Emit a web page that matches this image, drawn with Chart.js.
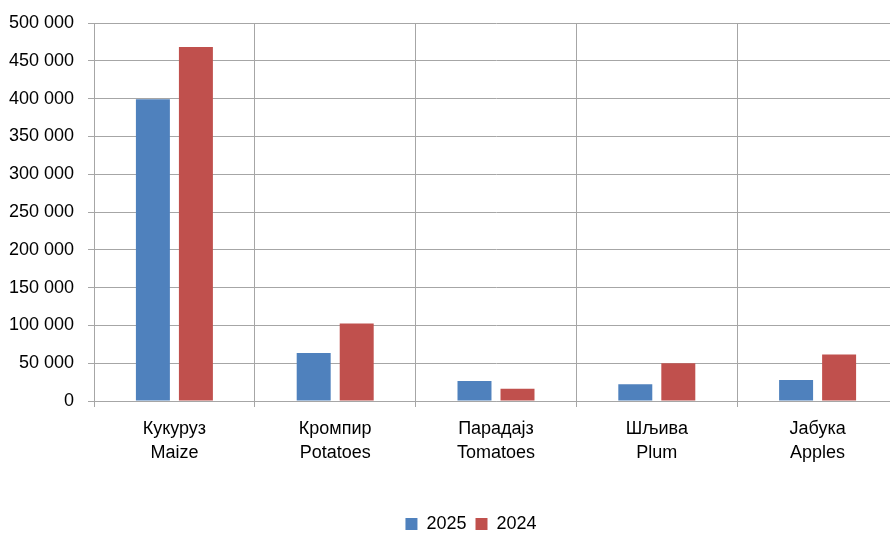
<!DOCTYPE html>
<html>
<head>
<meta charset="utf-8">
<script src="https://cdn.jsdelivr.net/npm/chart.js@4.4.1/dist/chart.umd.min.js"></script>
<style>
  html, body { margin: 0; padding: 0; background: #fff; overflow: hidden; }
  #wrap { position: relative; width: 898px; height: 533px; }
</style>
</head>
<body>
<div id="wrap"><canvas id="chart"></canvas></div>
<script>
// Categories (Serbian Cyrillic / English)
const categories = [
    ['Кукуруз', 'Maize'],
    ['Кромпир', 'Potatoes'],
    ['Парадајз', 'Tomatoes'],
    ['Шљива', 'Plum'],
    ['Јабука', 'Apples']
];
const values2025 = [399000, 63500, 26500, 22000, 27800];
const values2024 = [468300, 102600, 16300, 49800, 61600];
const yTicks = [0, 50000, 100000, 150000, 200000, 250000, 300000, 350000, 400000, 450000, 500000];

const FONT = "'Liberation Sans', Arial, sans-serif";
const gridColor = '#a6a6a6';

function fmt(v) {
    return String(v).replace(/\B(?=(\d{3})+(?!\d))/g, ' ');
}

// move the legend a bit (it sits lower and right of centre in the original)
const legendShift = {
    id: 'legendShift',
    afterLayout(chart) {
        const lg = chart.legend;
        if (!lg) return;
        const dy = 506 - lg.top;
        lg.top += dy; lg.bottom += dy;
        lg.left += 22; lg.right += 22;
    }
};

new Chart(document.getElementById('chart').getContext('2d'), {
    type: 'bar',
    data: {
        labels: categories,
        datasets: [
            { label: '2025', data: values2025, backgroundColor: '#4f81bd' },
            { label: '2024', data: values2024, backgroundColor: '#c0504d' }
        ]
    },
    options: {
        responsive: true,
        maintainAspectRatio: false,
        animation: false,
        devicePixelRatio: 1,
        layout: { padding: { top: 4, right: 0, left: 0, bottom: 0 } },
        datasets: {
            bar: { categoryPercentage: 0.535, barPercentage: 0.79 }
        },
        plugins: {
            tooltip: { enabled: false },
            legend: {
                position: 'bottom',
                labels: {
                    font: { family: FONT, size: 18 },
                    color: '#000',
                    boxWidth: 12,
                    boxHeight: 12,
                    padding: 9
                }
            }
        },
        scales: {
            x: {
                grid: { color: gridColor, tickLength: 6, offset: true },
                border: { color: gridColor },
                ticks: {
                    font: { family: FONT, size: 18, lineHeight: 1.33 },
                    color: '#000',
                    maxRotation: 0,
                    padding: 10
                },
                afterFit: axis => { axis.height = 95; }
            },
            y: {
                min: 0,
                max: 500000,
                afterBuildTicks: axis => { axis.ticks = yTicks.map(v => ({ value: v })); },
                grid: { color: gridColor, tickLength: 6 },
                border: { color: gridColor },
                ticks: {
                    font: { family: FONT, size: 18, lineHeight: 1.0 },
                    color: '#000',
                    padding: 14,
                    callback: v => fmt(v)
                },
                afterFit: axis => { axis.width = 94; }
            }
        }
    },
    plugins: [legendShift]
});
</script>
</body>
</html>
